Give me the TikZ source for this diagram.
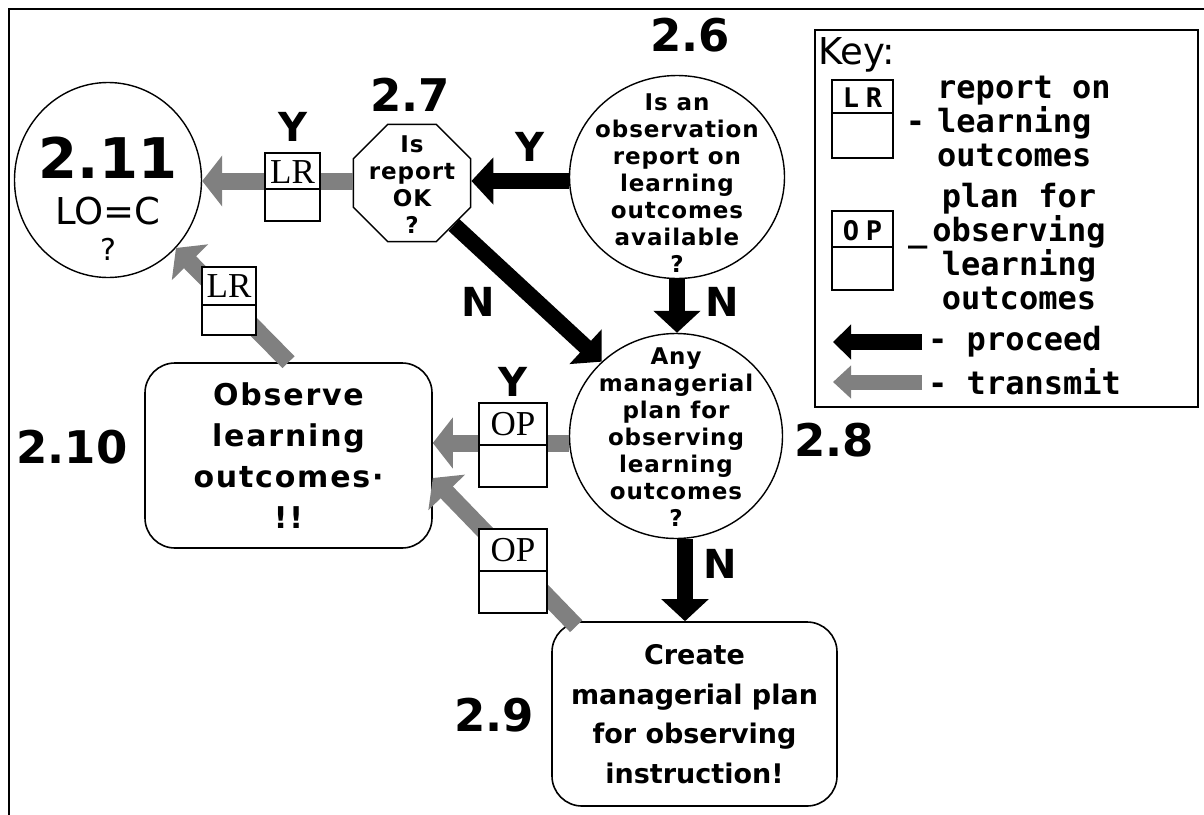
\documentclass[tikz,border=0pt]{standalone}
\usepackage{fontspec}
\usepackage{tikz}
\usetikzlibrary{shapes.geometric, arrows.meta, positioning}
\setmainfont{DejaVu Sans}
\newfontfamily\flowfont{DejaVu Sans}[LetterSpace=4]
\newfontfamily\boxfont{DejaVu Sans}[LetterSpace=6]
\newfontfamily\keyfont{DejaVu Sans Mono}
\newfontfamily\keytagfont{DejaVu Sans Mono}[LetterSpace=25]
\newfontfamily\tagfont{Liberation Serif}
\definecolor{dither}{RGB}{128,128,128}
\tikzstyle{proceed} = [-{Triangle[width=46pt,length=22pt]}, line width=16pt, draw=black]
\tikzstyle{transmit} = [-{Triangle[width=50pt,length=20pt]}, line width=17pt, draw=dither]
\tikzstyle{oval} = [ellipse, draw, line width=1.4pt, inner sep=0pt]
\tikzstyle{qtext} = [align=center, font=\flowfont\bfseries\fontsize{23}{27}\selectfont]
\tikzstyle{stepbox} = [rectangle, rounded corners=30pt, draw, line width=1.6pt, align=center]
\tikzstyle{yn} = [font=\bfseries\fontsize{40}{40}\selectfont]
\tikzstyle{num} = [font=\bfseries\fontsize{45}{45}\selectfont]
\tikzstyle{keytext} = [inner sep=0pt, font=\keyfont\bfseries\fontsize{32}{34}\selectfont]
\tikzset{
    docbox/.style n args={4}{draw, line width=1.4pt, fill=white, inner sep=0pt,
        minimum width=#1, text height=#2, text depth=#3,
        font=\tagfont\fontsize{35}{35}\selectfont,
        path picture={\draw[line width=1.4pt]
            ([yshift=-#4]path picture bounding box.north west) --
            ([yshift=-#4]path picture bounding box.north east);}},
}

\begin{document}
\begin{tikzpicture}[x=1pt, y=-1pt]
    \useasboundingbox (0,0) rectangle (1204,814);
    \draw[line width=2pt] (9,9) rectangle (1240,850);

    % questions and actions
    \node[oval, minimum width=187pt, minimum height=195pt,
        label={[yshift=-19pt, align=center, font=\fontsize{30}{36}\selectfont]center:{{\bfseries\fontsize{56}{56}\selectfont 2.11}\\[10pt]{\fontsize{37}{40}\selectfont LO=C}\\?}}] (c211) at (108,180) {};
    \node[regular polygon, regular polygon sides=8, minimum size=127pt, draw, line width=1.4pt, inner sep=0pt,
        label={[qtext, yshift=-2pt]center:{Is\\report\\OK\\?}}] (oct27) at (412,183) {};
    \node[oval, minimum width=215pt, minimum height=203pt,
        label={[qtext, yshift=-6pt]center:{Is an\\observation\\report on\\learning\\outcomes\\available\\?}}] (q26) at (677,177) {};
    \node[oval, minimum width=213pt, minimum height=205pt,
        label={[qtext, yshift=-1pt]center:{Any\\managerial\\plan for\\observing\\learning\\outcomes\\?}}] (q28) at (676,436) {};
    \node[stepbox, minimum width=287pt, minimum height=185pt, font=\boxfont\bfseries\fontsize{30}{41}\selectfont]
        (obs210) at (288.5,455.5) {Observe\\learning\\outcomes·\\!!};
    \node[stepbox, minimum width=285pt, minimum height=184pt, font=\bfseries\fontsize{27}{39.5}\selectfont]
        (plan29) at (694.5,714) {Create\\managerial plan\\for observing\\instruction!};

    % numbers
    \node[num] (n26) at (690,35) {2.6};
    \node[num] (n27) at (410,95) {2.7};
    \node[num] (n28) at (834,440) {2.8};
    \node[num] (n29) at (494,715) {2.9};
    \node[num, font=\bfseries\fontsize{45}{45}\selectfont] (n210) at (72,447) {2.10};

    % proceed
    \draw[proceed] ([yshift=-4pt]q26.west) -- ([yshift=2pt]oct27.east);
    \draw[proceed] (q26.south) -- (q26.south |- q28.north);
    \draw[proceed] (oct27.-45) -- (q28.135);
    \draw[proceed] ([xshift=9pt]q28.south) -- ([xshift=-9.5pt]plan29.north);

    % transmit
    \draw[transmit] ([yshift=2pt]oct27.west) -- ([yshift=-1pt]c211.east);
    \draw[transmit] ([yshift=-7pt]q28.west) -- ([yshift=12.5pt]obs210.east);
    \draw[transmit] (obs210.north) -- (c211.-45);
    \draw[transmit] ([xshift=25pt, yshift=-5pt]plan29.north west) -- ([yshift=-22.5pt]obs210.east);

    % documents
    \node[docbox={55pt}{30pt}{38pt}{36pt}] (lr1) at (292.5,187) {LR};
    \node[docbox={54pt}{30pt}{38pt}{38pt}] (lr2) at (229,301) {LR};
    \node[docbox={68pt}{32pt}{52pt}{42pt}] (op1) at (513,445) {OP};
    \node[docbox={68pt}{32pt}{52pt}{42pt}] (op2) at (513,571) {OP};

    % answers
    \node[yn] (y1) at (293,127) {Y};
    \node[yn] (y2) at (530,147) {Y};
    \node[yn] (y3) at (513,382) {Y};
    \node[yn] (nn1) at (722,302) {N};
    \node[yn] (nn2) at (478,302) {N};
    \node[yn] (nn3) at (720,564) {N};

    % key
    \node[draw, line width=1.6pt, minimum width=383pt, minimum height=377pt] (key) at (1006.5,218.5) {};
    \node[anchor=west, inner sep=0pt, font=\fontsize{37}{37}\selectfont] (keyhead) at (818,55) {Key:};
    \node[docbox={61pt}{27pt}{51pt}{33pt}, font=\keytagfont\bfseries\fontsize{27}{27}\selectfont] (klr) at (862.5,119) {LR};
    \node[docbox={61pt}{29pt}{50pt}{36pt}, font=\keytagfont\bfseries\fontsize{27}{27}\selectfont] (kop) at (862.5,250.5) {OP};
    \node[keytext, anchor=west, align=left] (klrtext) at (937,121) {report on\\\llap{-\hspace{12pt}}learning\\outcomes};
    \node[keytext, align=center] (koptext) at (1019,247) {plan for\\\llap{\_\hspace{5pt}}observing\\learning\\outcomes};
    \node[keytext, anchor=west] (kproc) at (928,342) {- proceed};
    \node[keytext, anchor=west] (ktrans) at (928,382) {- transmit};
    \coordinate (kpend) at (833,342);
    \coordinate (ktend) at (833,382);
    \draw[proceed, -{Triangle[width=34pt,length=18pt]}] ([xshift=-6pt]kproc.west) -- (kpend);
    \draw[transmit, line width=15pt, -{Triangle[width=32pt,length=18pt]}] ([xshift=-6pt]ktrans.west) -- (ktend);
\end{tikzpicture}
\end{document}
